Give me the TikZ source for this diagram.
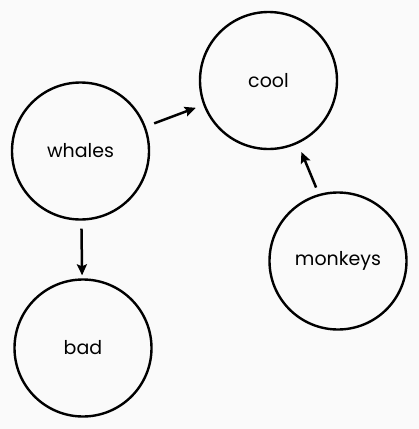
\documentclass[tikz,border=0pt]{standalone}
\usepackage{fontspec}
\setmainfont{Poppins}
\usetikzlibrary{arrows.meta}
\definecolor{bg}{RGB}{250,250,250}
\tikzset{
  x=1pt,y=-1pt,
  topic/.style={circle,draw=black,line width=2.4pt,minimum size=137pt,inner sep=0pt,font=\fontsize{19}{22}\selectfont},
  link/.style={line width=2.5pt,-{Stealth[length=11pt,width=10pt,inset=2pt]}}
}
\begin{document}
\begin{tikzpicture}
\fill[bg] (0,0) rectangle (419,429);
\useasboundingbox (0,0) rectangle (419,429);
\node[topic] (cool) at (268.5,80.5) {cool};
\node[topic] (whales) at (80.5,151) {whales};
\node[topic] (monkeys) at (338,261) {monkeys};
\node[topic] (bad) at (83,348) {bad};
\draw[link,shorten <=9pt,shorten >=8pt] (whales) -- (cool);
\draw[link,shorten <=7pt,shorten >=9pt] (monkeys.106) -- (cool.295);
\draw[link,shorten <=8pt,shorten >=3pt] (whales) -- (bad);
\end{tikzpicture}
\end{document}
